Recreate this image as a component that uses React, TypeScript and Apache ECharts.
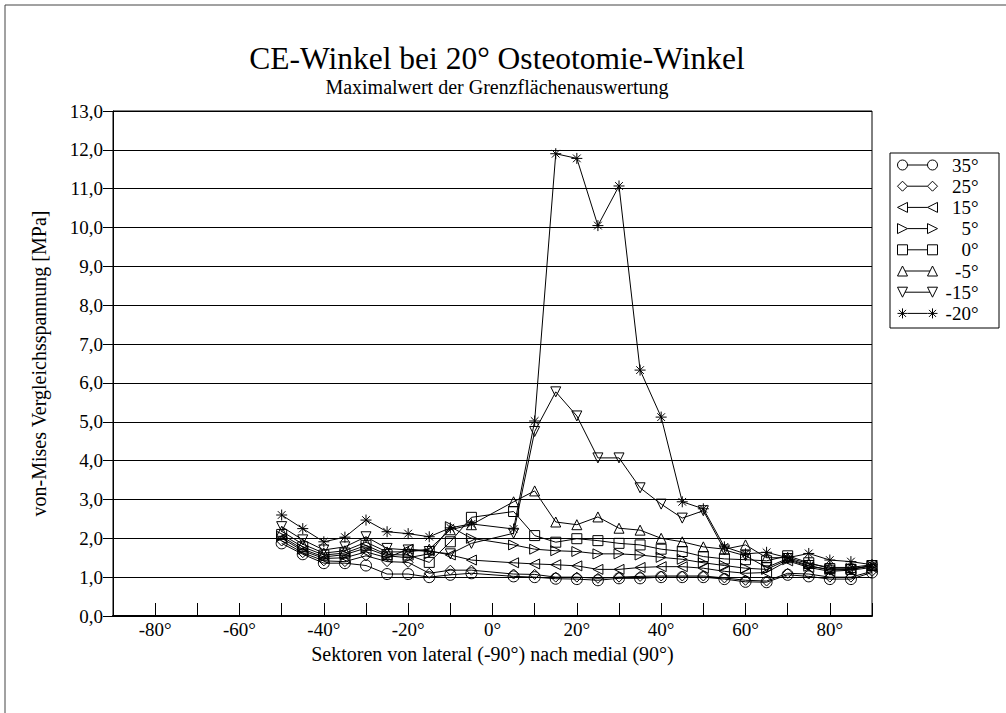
import React, { useEffect, useRef } from 'react';
import * as echarts from 'echarts';

// Sector positions (degrees), lateral (-90) to medial (90)
const SECTORS = [-50, -45, -40, -35, -30, -25, -20, -15, -10, -5, 5, 10, 15, 20, 25, 30, 35, 40, 45, 50, 55, 60, 65, 70, 75, 80, 85, 90];

// von-Mises stress [MPa] per CE angle
const S_35 = [1.87, 1.59, 1.36, 1.36, 1.3, 1.08, 1.08, 1.0, 1.06, 1.1, 1.02, 1.0, 0.96, 0.95, 0.92, 0.97, 0.97, 1.0, 1.0, 1.0, 0.95, 0.88, 0.87, 1.06, 1.02, 0.95, 0.95, 1.12];
const S_25 = [1.93, 1.63, 1.42, 1.4, 1.55, 1.4, 1.38, 1.1, 1.18, 1.18, 1.08, 1.07, 1.0, 1.0, 0.97, 1.0, 1.02, 1.03, 1.03, 1.03, 0.98, 0.92, 0.9, 1.1, 1.08, 1.0, 1.0, 1.15];
const S_15 = [2.0, 1.68, 1.48, 1.5, 1.65, 1.5, 1.72, 1.68, 1.57, 1.44, 1.37, 1.34, 1.32, 1.29, 1.2, 1.2, 1.25, 1.27, 1.27, 1.23, 1.15, 1.1, 1.12, 1.42, 1.25, 1.15, 1.18, 1.25];
const S_5 = [2.05, 1.72, 1.52, 1.58, 1.75, 1.55, 1.5, 1.6, 2.3, 2.0, 1.83, 1.72, 1.68, 1.66, 1.6, 1.6, 1.57, 1.51, 1.46, 1.37, 1.3, 1.23, 1.2, 1.45, 1.28, 1.2, 1.22, 1.28];
const S_0 = [2.1, 1.78, 1.57, 1.62, 1.82, 1.58, 1.57, 1.38, 1.91, 2.54, 2.69, 2.07, 1.9, 1.99, 1.94, 1.87, 1.83, 1.72, 1.66, 1.53, 1.47, 1.45, 1.42, 1.55, 1.37, 1.22, 1.2, 1.3];
const S_M5 = [2.18, 1.85, 1.62, 1.68, 1.9, 1.65, 1.65, 1.72, 2.22, 2.35, 2.94, 3.22, 2.42, 2.35, 2.55, 2.26, 2.21, 2.0, 1.91, 1.78, 1.72, 1.83, 1.5, 1.5, 1.35, 1.25, 1.25, 1.32];
const S_M15 = [2.3, 1.96, 1.7, 1.78, 2.04, 1.74, 1.7, 1.66, 1.6, 1.87, 2.13, 4.75, 5.77, 5.15, 4.07, 4.07, 3.3, 2.88, 2.52, 2.71, 1.7, 1.55, 1.25, 1.48, 1.3, 1.18, 1.2, 1.3];
const S_M20 = [2.6, 2.25, 1.91, 2.03, 2.47, 2.17, 2.12, 2.04, 2.27, 2.37, 2.24, 5.02, 11.9, 11.78, 10.05, 11.07, 6.33, 5.12, 2.94, 2.76, 1.78, 1.6, 1.64, 1.5, 1.61, 1.44, 1.4, 1.32];

const SERIES_NAMES = ['35°', '25°', '15°', '5°', '0°', '-5°', '-15°', '-20°'];
const SERIES_VALUES = [S_35, S_25, S_15, S_5, S_0, S_M5, S_M15, S_M20];

const TITLE = 'CE-Winkel bei 20° Osteotomie-Winkel';
const SUBTITLE = 'Maximalwert der Grenzflächenauswertung';
const X_NAME = 'Sektoren von lateral (-90°) nach medial (90°)';
const Y_NAME = 'von-Mises Vergleichsspannung [MPa]';

const FONT = '"Liberation Serif", "Times New Roman", serif';

const SYMBOLS = [
  'circle',
  'diamond',
  'path://M0,5L10,0L10,10Z',
  'path://M10,5L0,0L0,10Z',
  'rect',
  'path://M5,0L10,10L0,10Z',
  'path://M0,0L10,0L5,10Z',
  'path://M5,0L5,10M0,5L10,5M1.5,1.5L8.5,8.5M1.5,8.5L8.5,1.5',
];

const LEGEND_ICONS = [
  'path://M0,5A5,5,0,1,1,10,5A5,5,0,1,1,0,5ZM10,5L30,5M30,5A5,5,0,1,1,40,5A5,5,0,1,1,30,5Z',
  'path://M0,5L5,0L10,5L5,10ZM10,5L30,5M30,5L35,0L40,5L35,10Z',
  'path://M0,5L10,0L10,10ZM10,5L30,5M30,5L40,0L40,10Z',
  'path://M0,0L10,5L0,10ZM10,5L30,5M30,0L40,5L30,10Z',
  'path://M0,0L10,0L10,10L0,10ZM10,5L30,5M30,0L40,0L40,10L30,10Z',
  'path://M5,0L10,10L0,10ZM7.5,5L32.5,5M35,0L40,10L30,10Z',
  'path://M0,0L10,0L5,10ZM7.5,5L32.5,5M30,0L40,0L35,10Z',
  'path://M5,0L5,10M0,5L10,5M1.5,1.5L8.5,8.5M1.5,8.5L8.5,1.5M10,5L30,5M35,0L35,10M30,5L40,5M31.5,1.5L38.5,8.5M31.5,8.5L38.5,1.5',
];

const SYMBOL_SIZES = [11, 10, 10, 10, 10, 10, 10, 11];

export default function App() {
  const ref = useRef<HTMLDivElement>(null);

  useEffect(() => {
    document.body.style.margin = '0';
    if (!ref.current) return;
    const chart = echarts.init(ref.current, null, { renderer: 'svg' });

    const series = SERIES_NAMES.map((name, i) => ({
      name,
      type: 'line',
      data: SECTORS.map((x, j) => [x, SERIES_VALUES[i][j]]),
      symbol: SYMBOLS[i],
      symbolSize: SYMBOL_SIZES[i],
      showAllSymbol: true,
      lineStyle: { color: '#000', width: 1 },
      itemStyle: { color: 'rgba(0,0,0,0)', borderColor: '#000', borderWidth: 1 },
      emphasis: { disabled: true },
      z: 2 + i,
    }));

    chart.setOption({
      animation: false,
      backgroundColor: '#fff',
      title: {
        text: TITLE,
        subtext: SUBTITLE,
        left: 492,
        top: 37,
        textAlign: 'center',
        itemGap: 3,
        textStyle: { fontFamily: FONT, fontSize: 31.5, fontWeight: 'normal', color: '#000' },
        subtextStyle: { fontFamily: FONT, fontSize: 20, color: '#000' },
      },
      legend: {
        orient: 'vertical',
        left: 897,
        top: 155.5,
        padding: 0,
        itemWidth: 40,
        itemHeight: 10,
        itemGap: 2.2,
        selectedMode: false,
        data: SERIES_NAMES.map((name, i) => ({ name, icon: LEGEND_ICONS[i] })),
        itemStyle: { color: 'rgba(0,0,0,0)', borderColor: '#000', borderWidth: 1 },
        formatter: (name: string) => `{a|${name}}`,
        textStyle: {
          fontFamily: FONT,
          fontSize: 19,
          color: '#000',
          rich: { a: { width: 36, align: 'right', fontFamily: FONT, fontSize: 19, lineHeight: 19, color: '#000' } },
        },
      },
      grid: {
        left: 113,
        right: 134,
        top: 111,
        bottom: 97,
        show: true,
        borderColor: '#000',
        borderWidth: 1,
        backgroundColor: 'transparent',
      },
      xAxis: {
        type: 'value',
        min: -90,
        max: 90,
        interval: 10,
        name: X_NAME,
        nameLocation: 'middle',
        nameGap: 23,
        nameTextStyle: { fontFamily: FONT, fontSize: 20, color: '#000' },
        axisLine: { show: true, onZero: false, lineStyle: { color: '#000', width: 2 } },
        axisTick: { show: true, inside: true, length: 13, lineStyle: { color: '#000', width: 1 } },
        axisLabel: {
          fontFamily: FONT,
          fontSize: 19,
          color: '#000',
          margin: 4,
          formatter: (v: number) => (v % 20 === 0 && Math.abs(v) < 90 ? `${v}°` : ''),
        },
        splitLine: { show: false },
      },
      yAxis: {
        type: 'value',
        min: 0,
        max: 13,
        interval: 1,
        name: Y_NAME,
        nameLocation: 'middle',
        nameGap: 64,
        nameTextStyle: { fontFamily: FONT, fontSize: 20, color: '#000' },
        axisLine: { show: true, onZero: false, lineStyle: { color: '#000', width: 1 } },
        axisTick: { show: true, inside: false, length: 10, lineStyle: { color: '#000', width: 1 } },
        axisLabel: {
          fontFamily: FONT,
          fontSize: 19,
          color: '#000',
          margin: 10,
          formatter: (v: number) => v.toFixed(1).replace('.', ','),
        },
        splitLine: { show: true, lineStyle: { color: '#000', width: 1 } },
      },
      graphic: [
        {
          type: 'rect',
          shape: { x: 5, y: 5, width: 1020, height: 730 },
          style: { fill: 'none', stroke: '#444', lineWidth: 1 },
          silent: true,
        },
        {
          type: 'rect',
          shape: { x: 890, y: 153, width: 109, height: 175 },
          style: { fill: 'none', stroke: '#000', lineWidth: 1 },
          silent: true,
        },
      ],
      series,
    });

    return () => {
      chart.dispose();
    };
  }, []);

  return <div ref={ref} style={{ width: 1006, height: 713 }} />;
}
